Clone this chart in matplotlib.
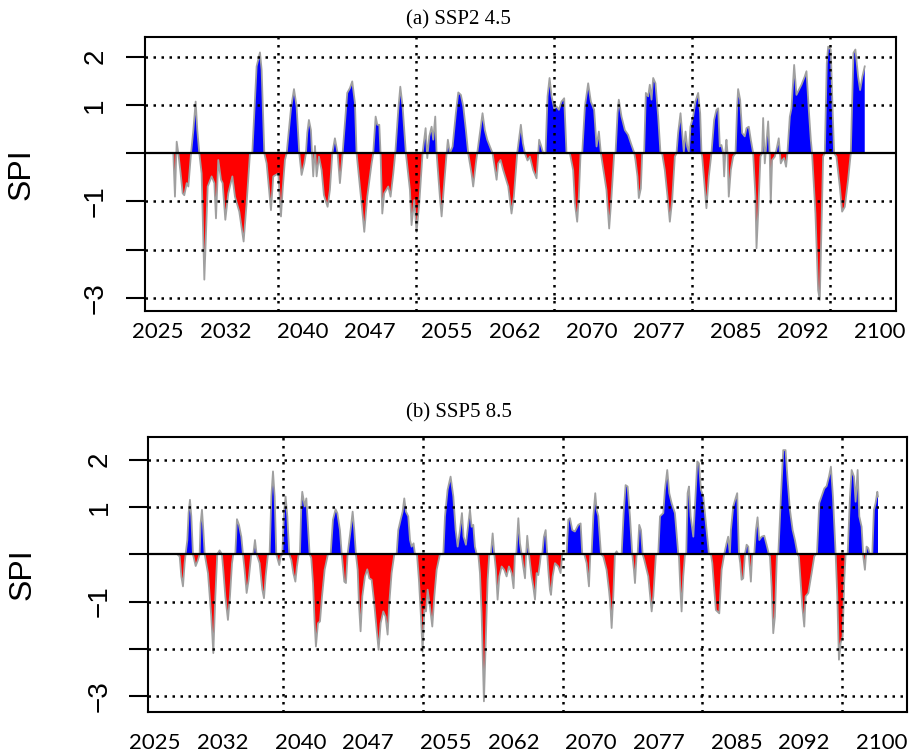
import matplotlib
matplotlib.use("Agg")
import matplotlib.pyplot as plt
import numpy as np

# (a) SSP2 4.5 : traced SPI series (decimal year, SPI)
top_year = [2026.59, 2026.76, 2026.94, 2027.11, 2027.35, 2027.56, 2027.73, 2027.98, 2028.15, 2028.43,
            2028.67, 2028.91, 2029.08, 2029.29, 2029.53, 2029.81, 2030.16, 2030.57, 2030.85, 2031.02,
            2031.26, 2031.54, 2031.71, 2031.99, 2032.30, 2032.72, 2032.99, 2033.44, 2033.89, 2034.20,
            2034.55, 2034.79, 2035.24, 2035.59, 2035.76, 2036.04, 2036.28, 2036.73, 2036.97, 2037.49,
            2037.77, 2037.94, 2038.18, 2038.36, 2038.81, 2039.12, 2039.39, 2039.67, 2039.91, 2040.19,
            2040.36, 2040.50, 2040.67, 2040.88, 2040.99, 2041.12, 2041.30, 2041.47, 2041.71, 2041.99,
            2042.23, 2042.61, 2042.85, 2043.10, 2043.37, 2043.65, 2043.89, 2044.17, 2044.65, 2044.93,
            2045.17, 2045.45, 2045.62, 2046.14, 2046.42, 2046.73, 2047.18, 2047.35, 2047.60, 2047.77,
            2047.98, 2048.11, 2048.29, 2048.49, 2048.91, 2049.15, 2049.43, 2049.64, 2049.95, 2050.16,
            2050.40, 2050.74, 2051.16, 2051.33, 2051.61, 2051.85, 2052.13, 2052.47, 2052.79, 2052.96,
            2053.17, 2053.41, 2053.58, 2053.79, 2053.93, 2054.27, 2054.45, 2054.69, 2054.97, 2055.10,
            2055.31, 2055.59, 2055.93, 2056.18, 2056.45, 2056.70, 2056.97, 2057.21, 2057.56, 2057.73,
            2058.01, 2058.15, 2058.43, 2058.70, 2058.94, 2059.19, 2059.46, 2059.74, 2060.16, 2060.33,
            2060.57, 2060.85, 2061.37, 2061.71, 2061.95, 2062.30, 2062.68, 2062.89, 2063.10, 2063.37,
            2063.62, 2063.96, 2064.31, 2064.48, 2064.58, 2064.76, 2065.00, 2065.24, 2065.45, 2065.66,
            2065.87, 2066.14, 2066.38, 2066.63, 2066.90, 2067.18, 2067.42, 2067.77, 2068.11, 2068.29,
            2068.53, 2068.70, 2068.88, 2069.05, 2069.33, 2069.67, 2069.95, 2070.29, 2070.54, 2070.78,
            2070.99, 2071.57, 2071.85, 2072.09, 2072.37, 2072.51, 2072.72, 2072.85, 2073.13, 2073.48,
            2073.82, 2074.17, 2074.45, 2074.58, 2074.79, 2074.93, 2075.14, 2075.28, 2075.48, 2075.66,
            2075.90, 2076.07, 2076.25, 2076.42, 2076.66, 2076.94, 2077.18, 2077.35, 2077.63, 2077.91,
            2078.15, 2078.39, 2078.67, 2078.84, 2079.01, 2079.26, 2079.46, 2079.60, 2079.78, 2079.95,
            2080.12, 2080.29, 2080.57, 2080.81, 2081.09, 2081.30, 2081.44, 2081.51, 2081.95, 2082.20,
            2082.47, 2082.75, 2082.99, 2083.17, 2083.34, 2083.51, 2083.69, 2083.79, 2083.93, 2084.03,
            2084.14, 2084.27, 2084.48, 2084.72, 2084.97, 2085.14, 2085.24, 2085.45, 2085.66, 2085.93,
            2086.11, 2086.35, 2086.56, 2086.80, 2087.04, 2087.15, 2087.32, 2087.56, 2087.73, 2087.84,
            2088.01, 2088.18, 2088.36, 2088.53, 2088.63, 2088.77, 2089.05, 2089.22, 2089.46, 2089.67,
            2089.84, 2090.02, 2090.22, 2090.36, 2090.61, 2090.78, 2091.06, 2091.30, 2091.54, 2091.82,
            2092.16, 2092.34, 2092.58, 2092.79, 2092.92, 2093.27, 2093.55, 2093.72, 2093.89, 2094.07,
            2094.24, 2094.45, 2094.59, 2094.86, 2095.03, 2095.21, 2095.45, 2095.80, 2096.04, 2096.32,
            2096.66, 2096.94, 2097.22, 2097.42, 2097.70, 2097.91, 2098.15, 2098.39]
top_spi = [0, -0.90, 0.24, 0, -0.42, -0.83, -0.87, -0.62, -0.69, 0,
           0.48, 1.07, 0.48, 0, -0.42, -2.62, -0.69, -0.48, -0.62, -1.35,
           -0.14, -0.55, -0.62, -1.38, -0.83, -0.48, -0.90, -1.21, -1.83, -1.04,
           0, 0, 1.80, 2.09, 1.73, 0, -0.21, -1.18, -0.48, -0.42,
           -1.31, -0.76, -0.14, 0, 0.93, 1.33, 0.97, 0, -0.45, -0.21,
           0, 0.42, 0.69, 0.48, 0, -0.48, 0.15, -0.48, -0.07, -0.35,
           -0.87, -1.11, -0.76, 0, 0.31, 0, -0.62, 0, 1.25, 1.35,
           1.49, 1.04, 0, -1.04, -1.63, -0.90, -0.21, 0, 0.76, 0.59,
           0.59, 0, -1.25, -0.83, -0.69, -0.90, -0.42, 0, 0.90, 1.38,
           0.97, 0, -0.76, -1.49, -0.97, -1.63, -1.04, 0, 0.52, -0.10,
           0.35, 0.55, 0.28, 0.76, 0, -0.90, -1.31, -0.69, 0, 0.28,
           0, 0.14, 0.83, 1.26, 1.21, 0.97, 0.48, 0, -0.42, -0.69,
           -0.21, 0, 0.42, 0.83, 0.48, 0.28, 0.14, 0, -0.55, -0.21,
           -0.14, -0.35, -0.69, -1.25, -0.90, 0, 0.59, 0.21, 0, -0.15,
           -0.07, -0.35, -0.52, 0, 0.28, 0.17, 0, 0, 1.18, 1.56,
           1.18, 0.93, 0.97, 0.90, 1.07, 1.14, 0, 0, -0.35, -1.04,
           -1.42, -0.90, 0, 0, 0.97, 1.45, 1.07, 0.90, 0.14, 0.45,
           0, -0.76, -1.56, -0.90, 0, 0, 0.83, 1.11, 0.76, 0.48,
           0.38, 0.17, 0.01, -0.14, -0.48, -0.93, -0.73, 0, 0, 1.25,
           1.18, 1.42, 1.11, 1.56, 1.45, 0.76, 0, 0, -0.35, -0.90,
           -1.42, -0.97, -0.07, 0, 0.42, 0.83, 0.35, 0.03, 0.45, 0.14,
           0.03, 0.55, 0.76, 1.07, 1.25, 0.83, 0, -0.07, -1.14, -0.48,
           0, 0.69, 0.90, 0.93, 0.14, 0.17, 0, -0.48, 0.07, 0.28,
           0, -0.90, -0.35, -0.07, 0, 0.97, 1.33, 1.11, 0.42, 0.35,
           0.52, 0.55, 0.28, 0, -0.90, -1.97, -1.25, -0.07, 0, 0.73,
           -0.21, 0.21, 0.66, -0.07, -1.04, -0.14, -0.07, 0.07, 0.31, -0.21,
           -0.14, -0.10, -0.28, 0, 0.76, 0.93, 1.83, 1.21, 1.31, 1.42,
           1.59, 1.70, 0.90, 0.28, 0, -1.25, -2.84, -3.04, -1.59, -0.07,
           0, 1.87, 2.21, 2.15, 1.04, 0, -0.07, -0.69, -1.21, -1.11,
           -0.55, 0, 2.08, 2.15, 1.59, 1.31, 1.59, 1.80]

# (b) SSP5 8.5
bot_year = [2027.30, 2027.55, 2027.72, 2027.89, 2028.06, 2028.16, 2028.34, 2028.47, 2028.61, 2028.75,
            2028.92, 2029.20, 2029.44, 2029.61, 2029.71, 2029.85, 2029.99, 2030.13, 2030.47, 2030.81,
            2031.02, 2031.23, 2031.43, 2031.67, 2031.91, 2032.05, 2032.26, 2032.53, 2032.74, 2032.95,
            2033.08, 2033.29, 2033.46, 2033.67, 2033.91, 2034.08, 2034.25, 2034.46, 2034.67, 2034.94,
            2035.15, 2035.32, 2035.49, 2035.80, 2036.08, 2036.25, 2036.42, 2036.66, 2036.83, 2037.01,
            2037.18, 2037.35, 2037.52, 2037.83, 2037.97, 2038.14, 2038.31, 2038.48, 2038.66, 2038.86,
            2039.07, 2039.28, 2039.49, 2039.65, 2039.83, 2039.96, 2040.10, 2040.20, 2040.45, 2040.62,
            2040.79, 2040.96, 2041.13, 2041.31, 2041.48, 2041.61, 2041.82, 2042.03, 2042.24, 2042.51,
            2042.85, 2043.13, 2043.37, 2043.64, 2043.82, 2044.09, 2044.27, 2044.33, 2044.54, 2044.71,
            2044.88, 2045.23, 2045.40, 2045.57, 2045.74, 2045.92, 2046.05, 2046.22, 2046.40, 2046.67,
            2046.91, 2047.12, 2047.36, 2047.63, 2047.88, 2048.08, 2048.29, 2048.56, 2048.80, 2049.01,
            2049.18, 2049.42, 2049.70, 2049.94, 2050.11, 2050.39, 2050.56, 2050.73, 2050.90, 2051.14,
            2051.32, 2051.49, 2051.69, 2051.83, 2052.04, 2052.24, 2052.45, 2052.62, 2052.80, 2052.97,
            2053.14, 2053.38, 2053.62, 2053.83, 2054.07, 2054.41, 2054.76, 2054.93, 2055.20, 2055.51,
            2055.79, 2056.03, 2056.24, 2056.48, 2056.68, 2056.85, 2057.09, 2057.34, 2057.51, 2057.68,
            2057.85, 2058.02, 2058.20, 2058.37, 2058.54, 2058.71, 2058.85, 2058.95, 2059.12, 2059.33,
            2059.50, 2059.67, 2059.85, 2060.02, 2060.19, 2060.36, 2060.54, 2060.78, 2061.05, 2061.29,
            2061.53, 2061.81, 2062.01, 2062.15, 2062.29, 2062.50, 2062.67, 2062.84, 2063.01, 2063.19,
            2063.29, 2063.42, 2063.60, 2063.87, 2064.04, 2064.22, 2064.39, 2064.56, 2064.73, 2064.83,
            2064.97, 2065.14, 2065.32, 2065.49, 2065.59, 2065.76, 2065.87, 2066.04, 2066.28, 2066.62,
            2066.86, 2067.03, 2067.48, 2067.66, 2067.83, 2068.07, 2068.34, 2068.69, 2068.93, 2069.10,
            2069.31, 2069.55, 2069.79, 2069.93, 2070.06, 2070.24, 2070.44, 2070.58, 2070.75, 2071.03,
            2071.27, 2071.61, 2071.85, 2071.99, 2072.13, 2072.30, 2072.47, 2072.64, 2072.82, 2073.16,
            2073.37, 2073.57, 2073.78, 2074.02, 2074.26, 2074.43, 2074.54, 2074.71, 2074.81, 2074.98,
            2075.16, 2075.33, 2075.50, 2075.91, 2076.26, 2076.43, 2076.70, 2076.94, 2077.12, 2077.46,
            2077.63, 2077.87, 2078.08, 2078.32, 2078.66, 2079.01, 2079.08, 2079.21, 2079.35, 2079.52,
            2079.70, 2079.83, 2079.97, 2080.11, 2080.28, 2080.56, 2080.73, 2080.97, 2081.14, 2081.35,
            2081.59, 2081.93, 2082.17, 2082.38, 2082.52, 2082.72, 2082.89, 2083.24, 2083.48, 2083.75,
            2083.99, 2084.16, 2084.33, 2084.44, 2084.68, 2084.92, 2085.09, 2085.27, 2085.40, 2085.54,
            2085.71, 2085.89, 2086.06, 2086.23, 2086.36, 2086.50, 2086.64, 2086.85, 2087.02, 2087.19,
            2087.37, 2087.61, 2087.88, 2088.12, 2088.36, 2088.47, 2088.64, 2088.81, 2088.98, 2089.19,
            2089.33, 2089.60, 2089.84, 2090.08, 2090.29, 2090.53, 2090.81, 2091.05, 2091.32, 2091.46,
            2091.67, 2091.81, 2092.01, 2092.15, 2092.43, 2092.77, 2093.04, 2093.18, 2093.32, 2093.56,
            2093.80, 2094.08, 2094.32, 2094.56, 2094.76, 2094.97, 2095.25, 2095.42, 2095.59, 2095.76,
            2095.97, 2096.14, 2096.28, 2096.49, 2096.73, 2096.90, 2097.14, 2097.31, 2097.52, 2097.69,
            2097.93, 2098.10, 2098.27, 2098.44, 2098.61, 2098.78, 2099.03, 2099.20, 2099.37, 2099.55,
            2099.62]
bot_spi = [0, -0.05, -0.47, -0.68, -0.19, 0, 0.30, 0.87, 1.15, 0.80,
           0, -0.25, -0.12, 0, 0.65, 0.94, 0.51, 0, -0.40, -1.32,
           -2.09, -0.89, 0, 0.08, 0, -0.33, -0.89, -1.39, -0.89, -0.19,
           0, 0, 0.74, 0.62, 0.37, 0, -0.33, -0.82, -0.54, 0,
           0, 0.30, 0, -0.19, -0.75, -0.93, -0.47, 0, 0, 1.22,
           1.75, 1.22, 0, -0.23, -0.05, 0, 0.87, 1.22, 0.80, 0,
           -0.12, -0.40, -0.58, -0.26, 0, 0, 1.01, 1.32, 1.01, 1.18,
           0.58, 0, -0.08, -0.61, -1.46, -1.95, -1.46, -1.42, -0.89, -0.33,
           0, 0, 0.73, 0.95, 0.87, 0.51, 0, -0.12, -0.58, -0.61,
           0, 0.58, 0.90, 0.51, 0, -0.33, -1.04, -1.63, -0.89, -0.47,
           -0.32, -0.51, -0.54, -1.04, -1.60, -2.02, -1.46, -1.21, -1.32, -1.70,
           -1.04, -0.40, 0, 0, 0.51, 0.76, 0.90, 1.18, 0.90, 0.80,
           0.30, 0.16, 0.23, 0, 0, -0.54, -1.32, -2.06, -1.18, -1.21,
           -0.75, -1.11, -1.53, -0.89, -0.33, 0, 0, 0.80, 1.36, 1.64,
           1.22, 0.51, 0.16, 0.51, 0.87, 0.37, 0.20, 0.65, 0.94, 0.58,
           0.62, 0.16, 0, 0, -0.40, -1.25, -2.30, -3.11, -1.95, -0.54,
           0, 0, 0.44, 0, -0.33, -0.96, -0.47, -0.26, -0.33, -0.47,
           -0.26, -0.40, -0.72, 0, 0, 0.76, 0.23, 0, -0.26, -0.51,
           -0.05, 0.39, 0, -0.47, -0.68, -0.96, -0.40, -0.44, -0.19, 0,
           0, 0.37, 0.51, 0, -0.33, -0.75, -0.86, -0.47, -0.19, -0.26,
           -0.40, 0, 0, 0.73, 0.76, 0.51, 0.48, 0.62, 0.65, 0,
           0, -0.19, -0.68, 0, 0, 0.80, 1.29, 0.94, 0.81, 0,
           -0.05, -0.33, -0.75, -1.04, -1.56, -0.89, 0, 0.06, 0, 0,
           0.87, 1.46, 1.43, 0.80, 0, -0.33, -0.61, 0, 0, 0.62,
           0.51, 0, -0.12, -0.47, -1.21, -0.89, 0, 0, 0.80, 0.87,
           1.36, 1.78, 1.29, 1.08, 0.87, 0, -0.05, -0.68, -1.21, -0.47,
           0, 0, 1.29, 1.43, 0.80, 0.37, 1.01, 1.96, 1.92, 1.36,
           1.22, 0.51, 0, 0, -0.19, -0.75, -1.18, -1.25, -0.33, 0,
           0.23, 0.37, 0, 0.51, 1.01, 1.18, 1.29, 0, -0.19, -0.54,
           -0.51, 0, 0.20, 0.16, -0.19, -0.58, 0, 0, 0.51, 0.78,
           0.30, 0.37, 0.39, 0.20, 0, -0.05, -0.68, -1.67, -1.32, 0,
           0, 1.22, 2.20, 2.20, 1.57, 0.94, 0.51, 0.30, 0, -0.05,
           -0.68, -1.11, -1.53, -0.89, -0.82, -0.40, -0.05, 0, 0, 1.08,
           1.22, 1.39, 1.44, 1.64, 1.85, 1.22, 0, -0.89, -2.23, -1.88,
           -1.74, -0.54, 0, 0, 1.22, 1.78, 1.64, 1.11, 1.78, 0.80,
           0.58, -0.05, -0.33, 0.16, 0.13, 0, 0, 0.94, 1.08, 1.32,
           1.22]

year_labels = [2025, 2032, 2040, 2047, 2055, 2062, 2070, 2077, 2085, 2092, 2100]
spi_ticks = [-3, -2, -1, 0, 1, 2]
spi_labels = ["\u22123", "", "\u22121", "", "1", "2"]
titles = ["(a) SSP2 4.5", "(b) SSP5 8.5"]

dots = (0, (1, 2.2))

fig = plt.figure(figsize=(9.12, 7.53), dpi=100)


def panel(rect, years, spi, xlim, ylim, vlines, xpad, ypad):
    ax = fig.add_axes(rect)
    x = np.array(years)
    y = np.array(spi)
    ax.fill_between(x, y, 0, where=y >= 0, interpolate=True, color="#0000ff", lw=0, zorder=2)
    ax.fill_between(x, y, 0, where=y <= 0, interpolate=True, color="#ff0000", lw=0, zorder=2)
    ax.plot(x, y, color="#a0a0a0", lw=1.3, zorder=3)
    for v in spi_ticks:
        if v != 0:
            ax.axhline(v, color="black", lw=1.8, ls=dots, zorder=4)
    for v in vlines:
        ax.axvline(v, color="black", lw=1.8, ls=dots, zorder=4)
    ax.axhline(0, color="black", lw=1.6, zorder=5)
    ax.set_xlim(xlim)
    ax.set_ylim(ylim)
    ax.set_xticks(year_labels)
    ax.set_xticklabels([str(v) for v in year_labels], fontfamily="Lato", fontsize=16)
    ax.tick_params(axis="x", length=0, pad=xpad)
    ax.set_yticks(spi_ticks)
    ax.set_yticklabels(spi_labels, rotation=90, va="center", fontfamily="Liberation Sans", fontsize=20)
    ax.tick_params(axis="y", length=13.5, width=1.5, pad=ypad)
    for s in ax.spines.values():
        s.set_linewidth(1.5)
    return ax


panel([0.159, 0.587, 0.8235, 0.3639], top_year, top_spi, (2023.65, 2101.64), (-3.27, 2.41),
      [2037.49, 2051.81, 2066.13, 2080.45, 2094.77], 8, 13)
panel([0.1626, 0.0548, 0.8322, 0.3644], bot_year, bot_spi, (2024.31, 2102.64), (-3.33, 2.47),
      [2038.24, 2052.66, 2067.08, 2081.50, 2095.92], 15, 12)

fig.text(458 / 912, 1 - 20 / 753, titles[0], ha="center", va="center", fontfamily="Liberation Serif", fontsize=15)
fig.text(459 / 912, 1 - 413 / 753, titles[1], ha="center", va="center", fontfamily="Liberation Serif", fontsize=15)
fig.text(22 / 912, 1 - 174 / 753, "SPI", rotation=90, ha="center", va="center", fontfamily="Liberation Sans", fontsize=23)
fig.text(23 / 912, 1 - 574 / 753, "SPI", rotation=90, ha="center", va="center", fontfamily="Liberation Sans", fontsize=23)

fig.savefig("out.png", dpi=100)
